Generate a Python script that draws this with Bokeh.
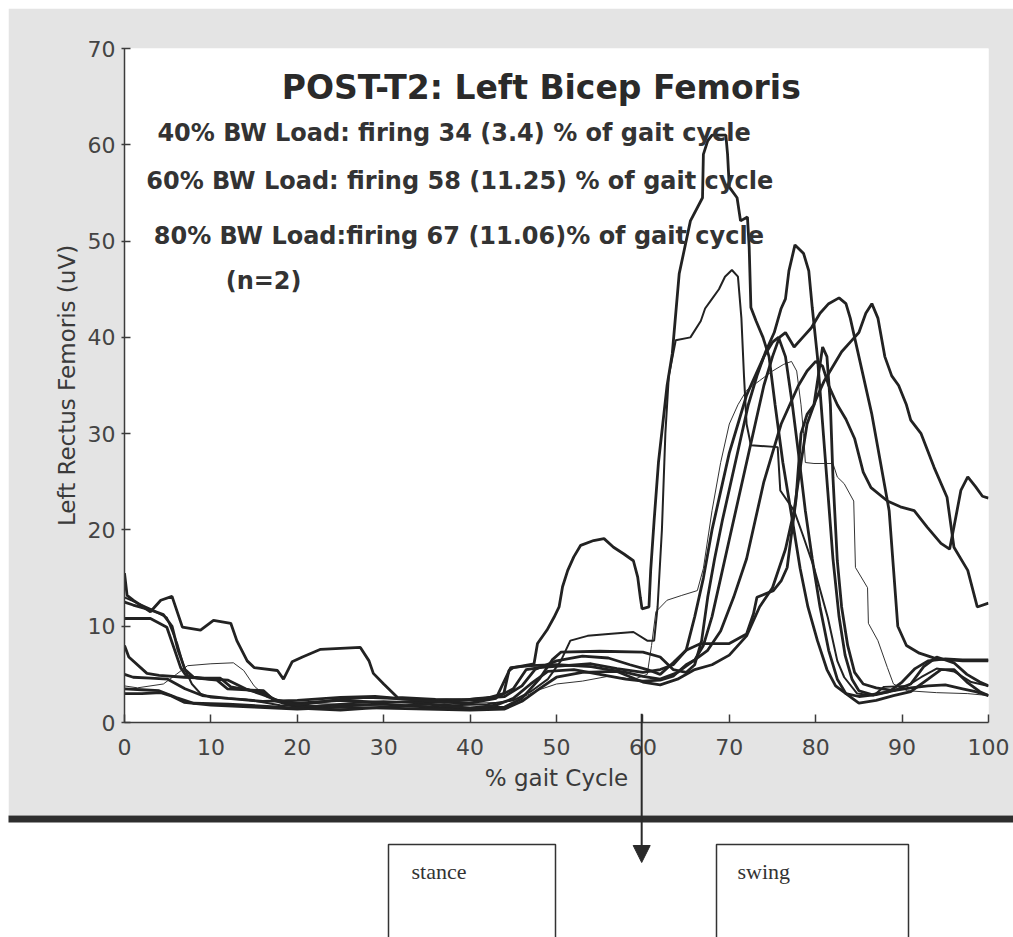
from bokeh.plotting import figure
from bokeh.models import Range1d, Arrow, NormalHead
from bokeh.core.properties import value
from bokeh.embed import file_html
from bokeh.resources import INLINE

# ---------------- data (x = % gait cycle, y = uV) ----------------
curve_1 = [(0, 15.5), (0.3, 13.2), (1, 12.7), (3, 11.5), (4.2, 12.7), (5.5, 13.1), (6.7, 9.9), (8.8, 9.6),
           (10.3, 10.6), (12.3, 10.3), (13, 8.5), (14.2, 6.4), (15, 5.7), (17.7, 5.4), (18.4, 4.5), (19.4, 6.3),
           (20.6, 6.8), (22.7, 7.6), (27.3, 7.8), (28.3, 6.4), (28.8, 5.1), (30, 4.0), (31.6, 2.6), (36, 2.4),
           (41, 2.3), (43.9, 3.0), (44.5, 5.4), (45, 5.7), (47.4, 6.1), (47.8, 8.2), (48.9, 9.6), (49.7, 10.9),
           (50.3, 12.0), (50.7, 14.1), (51.3, 15.8), (52, 17.2), (52.8, 18.4), (54.3, 18.9), (55.5, 19.1),
           (56.6, 18.2), (57.8, 17.5), (58.9, 16.8), (59.4, 15.1), (59.7, 13.0), (59.9, 11.8), (60.7, 12.0),
           (60.9, 15.8), (61.3, 21), (61.8, 27), (62.3, 31), (62.8, 35), (63.4, 38.3), (64.2, 46.6), (65.5, 52.1),
           (66.9, 54.5), (67.0, 59), (67.5, 60.4), (68, 61), (69.6, 61), (69.8, 59), (70, 55.6), (70.9, 54.5),
           (71.3, 52.1), (72.1, 52.5), (72.3, 49.4), (72.5, 43.1), (73.1, 41.7), (73.9, 40), (74.6, 38),
           (75.3, 33), (76.2, 27), (77.3, 21), (78.2, 16), (79.1, 12), (80.2, 8.5), (81.3, 5.5), (82.3, 3.8),
           (83.5, 3.0), (85, 2.7), (87, 2.9), (89, 3.3), (91, 3.6), (93, 3.8), (95, 3.9), (97, 3.5), (98.5, 3.2),
           (100, 2.8)]
curve_2 = [(0, 13.0), (1, 12.6), (3, 11.8), (4.9, 10.9), (6.1, 8.2), (6.9, 5.7), (7.8, 4.0), (8.8, 3.0), (10, 2.6),
           (14, 2.4), (18, 1.8), (22, 1.7), (26, 2.0), (30, 2.2), (34, 2.0), (38, 1.8), (42, 1.9), (45, 2.3),
           (47, 3.2), (49, 4.5), (50.5, 6.4), (51.6, 8.5), (53.6, 9.0), (56, 9.2), (58.9, 9.4), (60.5, 8.5),
           (61.3, 8.5), (61.7, 12), (62.2, 20), (62.6, 30), (63.0, 36), (63.8, 39.7), (65.5, 40), (66.7, 41.7),
           (67.2, 43), (68, 44), (68.8, 45), (69.5, 46.3), (70.3, 47), (71.0, 46.3), (71.4, 42), (71.7, 36),
           (72.0, 31), (72.5, 28.8), (75.6, 28.6), (75.9, 24.1), (77.5, 22), (78.5, 19.5), (79.8, 16.1),
           (81.4, 10.9), (82.5, 6.4), (83.3, 4.7), (84.8, 3.0), (86.7, 2.8), (87.9, 3.7), (90.6, 3.8), (92.2, 4.7),
           (94, 5.6), (96, 5.3), (98, 4.2), (100, 3.8)]
curve_3 = [(0, 10.8), (3, 10.8), (4.9, 9.9), (5.7, 7.8), (6.5, 5.7), (7.1, 4.9), (8.4, 4.6), (10.7, 4.4),
           (11.9, 3.5), (16.1, 3.3), (17.3, 2.3), (20, 1.6), (25, 1.8), (30, 1.9), (35, 1.6), (40, 1.5), (44, 1.6),
           (46, 2.5), (48, 4.5), (49.5, 6.5), (50.5, 7.3), (55, 7.4), (60, 7.3), (62, 6.8), (63.5, 5.5), (65, 5.2),
           (66, 6), (66.8, 8.5), (67.5, 13), (68.3, 17), (69.2, 21), (70.2, 25), (71.2, 29), (72.2, 33), (73.2, 36),
           (74.2, 38.5), (75.2, 40.5), (76, 43), (76.5, 44), (76.9, 46.9), (77.6, 49.6), (78.6, 48.7),
           (79.2, 46.9), (79.6, 43.1), (80.2, 38), (80.8, 31), (81.4, 24), (82, 17), (82.7, 11), (83.4, 7),
           (84.2, 4.5), (85, 3.3), (86.5, 2.9), (88.5, 3.2), (90, 4.2), (91.5, 5.6), (93, 6.4), (95, 6.6),
           (97, 6.5), (100, 6.5)]
curve_4 = [(0, 8.0), (0.5, 6.8), (2.6, 5.1), (4, 4.9), (6.9, 4.7), (9, 4.6), (11.1, 4.6), (12.3, 3.7), (16.1, 3.1),
           (17.5, 2.3), (20, 2.0), (25, 2.3), (30, 2.1), (35, 2.2), (40, 2.0), (43, 2.5), (44.7, 5.7), (47, 5.9),
           (50, 6.0), (52, 5.9), (54, 5.8), (56, 5.5), (58, 5.2), (60, 4.8), (62, 4.5), (64, 5.2), (66, 6.5),
           (67, 8), (68, 11), (69, 15), (70, 19), (71, 23), (72, 27), (73, 31), (74, 35), (75, 38), (75.8, 40),
           (76.5, 40.5), (77.5, 39), (78.5, 40), (79.5, 41), (80.5, 42.5), (81.5, 43.5), (82.7, 44.1),
           (83.5, 43.5), (84, 42), (84.5, 40), (85.5, 36), (86.5, 32), (87.5, 27), (88.5, 22), (89, 16),
           (89.5, 10), (90.5, 8), (92, 7.2), (94, 6.6), (97, 6.4), (100, 6.4)]
curve_5 = [(0, 3.0), (2, 3.0), (4.2, 3.1), (5.3, 2.8), (6.9, 2.1), (10, 1.8), (15, 1.6), (20, 1.4), (25, 1.6),
           (30, 1.5), (35, 1.4), (40, 1.3), (44, 1.4), (46, 2.2), (48, 3.5), (50, 4.7), (53, 5.2), (57, 5.3),
           (60, 4.2), (62, 3.9), (64, 4.5), (66, 5.5), (68, 6.0), (70, 7), (72, 9), (73.5, 12), (75, 14),
           (76.5, 18), (77.5, 22), (78.3, 27), (79, 31), (80, 33.5), (81, 35.5), (82, 37), (83, 38.5), (84, 39.5),
           (85, 40.5), (85.8, 42.5), (86.5, 43.5), (87.2, 42), (88, 38), (88.8, 36), (89.6, 35), (90.5, 33),
           (91, 31.4), (92.2, 30), (93.7, 26.5), (95.2, 23.4), (96, 18.2), (97.6, 15.8), (98.7, 12), (100, 12.4)]
curve_6 = [(0, 3.5), (2, 3.4), (4, 3.3), (6, 2.6), (8, 2.0), (12, 1.9), (16, 1.7), (20, 1.5), (25, 1.3), (30, 1.6),
           (35, 1.9), (40, 1.5), (43, 1.8), (45, 2.5), (47, 4), (49, 5.3), (52, 5.5), (55, 5.0), (58, 4.5),
           (60, 4.3), (62, 4.4), (63.5, 4.8), (65, 6), (66, 6.5), (67.5, 7.5), (69, 9.5), (70.5, 13), (72, 17),
           (73, 21), (74, 25), (75, 28), (76, 31), (77, 33), (78, 35), (79, 36.5), (80, 37.5), (80.8, 37),
           (81.5, 35), (82.5, 33), (83.5, 31.5), (84.5, 29.5), (85.5, 26), (86.4, 24.4), (88.3, 23), (89.8, 22.4),
           (91.4, 22), (92.9, 20.3), (94.5, 18.6), (95.5, 18), (96, 20.3), (96.8, 24.1), (97.6, 25.5),
           (98.5, 24.5), (99.3, 23.5), (100, 23.3)]
curve_7_thin = [(0, 3.8), (1.5, 3.6), (4.5, 4.0), (6, 5.0), (7.3, 5.9), (10, 6.1), (12.6, 6.2), (13.8, 5.4),
                (15, 3.8), (16.5, 2.6), (20, 2.0), (25, 1.9), (30, 1.7), (35, 1.8), (40, 2.0), (44, 2.1), (46, 2.6),
                (48, 3.4), (50, 4.0), (53, 4.3), (56, 4.8), (59, 4.5), (60.5, 5.0), (61, 8), (61.5, 11.5),
                (62.8, 12.7), (64.5, 13.2), (66.3, 13.7), (67, 16), (68, 22), (69, 27), (70, 31), (71, 33),
                (72, 34.5), (73.5, 35.5), (75, 36.5), (76.3, 37.2), (77.2, 37.5), (77.8, 36.5), (78.3, 33),
                (78.6, 30), (78.8, 27), (79.8, 26.9), (82, 26.9), (82.5, 25.5), (83.3, 24.8), (84.4, 23),
                (84.6, 16.1), (86, 14), (86.1, 10.3), (87.2, 8.5), (88.3, 5.7), (89, 4.0), (90.6, 3.3), (94, 3.1),
                (97.6, 3.0), (100, 2.8)]
curve_8 = [(0, 12.5), (1, 12.2), (3, 11.7), (4.5, 11.2), (5.5, 10), (6.2, 7.5), (7, 5.5), (8, 4.7), (10, 4.5),
           (12, 4.4), (14, 3.5), (16, 2.9), (18, 2.2), (20, 1.8), (25, 2.4), (28, 2.6), (31, 2.5), (35, 2.3),
           (40, 2.4), (43, 2.6), (45, 3.5), (46.5, 5.5), (48, 5.7), (51, 5.9), (54, 6.1), (57, 5.6), (60, 5.2),
           (62, 5.5), (63.5, 6), (65, 7.5), (66, 11), (67, 15), (68, 20), (69, 24), (70, 28), (71, 31), (72, 34),
           (73, 36), (74, 38), (75, 39.5), (75.7, 40), (76.5, 38), (77.3, 33), (78, 28), (78.8, 22), (79.6, 17),
           (80.5, 12), (81.5, 7.5), (82.5, 4.5), (83.5, 3.0), (85, 2.0), (87, 2.3), (89, 2.8), (91, 3.2),
           (93, 4.5), (94.5, 5.5), (96, 5.5), (97.5, 4.2), (99, 3.2), (100, 2.8)]
curve_9 = [(0, 5.0), (1, 4.7), (3, 4.6), (5, 4.5), (7, 3.5), (9, 2.8), (12, 2.5), (16, 2.2), (20, 2.3), (25, 2.6),
           (29, 2.7), (33, 2.4), (37, 2.1), (41, 2.5), (44, 2.7), (46, 3.8), (47.5, 5.5), (50, 6.4), (53, 6.9),
           (56, 6.7), (58.5, 6.0), (60.5, 5.5), (62, 5.0), (63.5, 6.2), (65, 7.5), (66.7, 8.2), (70, 8.2),
           (72, 9.2), (72.8, 11.3), (73.2, 13), (75.1, 13.7), (76, 14.7), (76.7, 16.1), (77.1, 18.9), (77.7, 23),
           (78.3, 30), (79, 32), (79.8, 33), (80.3, 36), (80.8, 39), (81.3, 38), (81.7, 33), (82, 25.4),
           (82.5, 16.8), (83, 12), (83.7, 8), (84.5, 5.2), (85.5, 4), (87, 3.6), (89, 3.3), (91, 4.0), (92.5, 5.8),
           (94, 6.8), (96, 6.2), (97.5, 5.0), (99, 4.2), (100, 3.8)]

thick_curves = [curve_1, curve_3, curve_4, curve_5, curve_6, curve_8, curve_9]
medium_curves = [curve_2]
thin_curves = [curve_7_thin]

x_ticks = [0, 10, 20, 30, 40, 50, 60, 70, 80, 90, 100]
y_ticks = [0, 10, 20, 30, 40, 50, 60, 70]

title_text = "POST-T2:  Left Bicep Femoris"
note_lines = ["40% BW Load: firing 34 (3.4) % of gait cycle",
              "60% BW Load: firing 58 (11.25) % of gait cycle",
              "80% BW Load:firing 67 (11.06)% of gait cycle",
              "(n=2)"]
x_label = "% gait Cycle"
y_label = "Left Rectus Femoris (uV)"
phase_labels = ["stance", "swing"]
phase_marker_pct = 59.86   # arrow drawn at ~60 % of the gait cycle

# ---------------- styles ----------------
INK = "#222222"
AXIS_GRAY = "#3c3c3c"
PAPER = "#e4e4e4"
WIDE = "DejaVu Sans"

p = figure(width=1005, height=807, x_range=Range1d(0, 100), y_range=Range1d(0, 70),
           output_backend="svg", toolbar_location=None,
           min_border_left=116, min_border_right=25, min_border_top=40, min_border_bottom=93,
           background_fill_color="white", border_fill_color=PAPER, outline_line_color=None)
p.styles = {"margin-left": "8px", "margin-top": "8px"}
p.grid.visible = False

for ax in (p.xaxis[0], p.yaxis[0]):
    ax.axis_line_color = AXIS_GRAY
    ax.axis_line_width = 1.5
    ax.major_tick_line_color = AXIS_GRAY
    ax.major_tick_line_width = 1.5
    ax.minor_tick_line_color = None
    ax.major_label_text_font = WIDE
    ax.major_label_text_font_size = "22px"
    ax.major_label_text_color = "#444444"
    ax.axis_label_text_font = WIDE
    ax.axis_label_text_font_style = "normal"
    ax.axis_label_text_font_size = "23px"
    ax.axis_label_text_color = "#3a3a3a"

p.xaxis.ticker = x_ticks
p.yaxis.ticker = y_ticks
p.xaxis.major_tick_in = 8
p.xaxis.major_tick_out = 0
p.yaxis.major_tick_in = 6
p.yaxis.major_tick_out = 3
p.xaxis.major_label_standoff = 16
p.yaxis.major_label_standoff = 6
p.xaxis.axis_label = x_label
p.yaxis.axis_label = y_label
p.xaxis.axis_label_standoff = 7
p.yaxis.axis_label_standoff = 5

for c in thin_curves:
    p.line([a for a, b in c], [b for a, b in c], line_color="#333333", line_width=1)
for c in medium_curves:
    p.line([a for a, b in c], [b for a, b in c], line_color=INK, line_width=2)
for c in thick_curves:
    p.line([a for a, b in c], [b for a, b in c], line_color=INK, line_width=2.8)

# title + notes
p.text(x=[48.9], y=[65.9], text=[title_text], text_font=value(WIDE), text_font_style="bold",
       text_font_size="33px", text_color="#2a2a2a", text_align="center", text_baseline="middle")
note_x = [38.15, 38.8, 38.7, 16.1]
note_y = [61.2, 56.2, 50.5, 45.9]
for t, xx, yy in zip(note_lines, note_x, note_y):
    p.text(x=[xx], y=[yy], text=[t], text_font=value(WIDE), text_font_style="bold",
           text_font_size="24px", text_color="#333333", text_align="center", text_baseline="middle")

# ---------------- lower panel (stance / swing), transparent overlay ----------------
q = figure(width=1013, height=224, x_range=Range1d(0, 1013), y_range=Range1d(937, 713),
           output_backend="svg", toolbar_location=None, x_axis_type=None, y_axis_type=None,
           min_border=0, outline_line_color=None,
           background_fill_alpha=0, border_fill_alpha=0)
q.styles = {"margin-top": "-102px"}
q.grid.visible = False
q.quad(left=[8], right=[1013], top=[815], bottom=[822], fill_color="#2e2e2e", line_color=None)
q.quad(left=[388, 716], right=[555, 908], top=[844, 844], bottom=[950, 950],
       fill_color=None, line_color="#333333", line_width=1.5)
q.text(x=[411, 737], y=[871, 871], text=phase_labels, text_font=value("Liberation Serif"),
       text_font_size="22px", text_color="#333333", text_align="left", text_baseline="middle")
arrow_x = 124 + phase_marker_pct / 100 * 864
q.add_layout(Arrow(x_start=arrow_x, y_start=713, x_end=arrow_x, y_end=862,
                   end=NormalHead(size=17, fill_color="#2a2a2a", line_color="#2a2a2a"),
                   line_color="#2a2a2a", line_width=2))

open("out.html", "w").write(file_html([p, q], INLINE))
